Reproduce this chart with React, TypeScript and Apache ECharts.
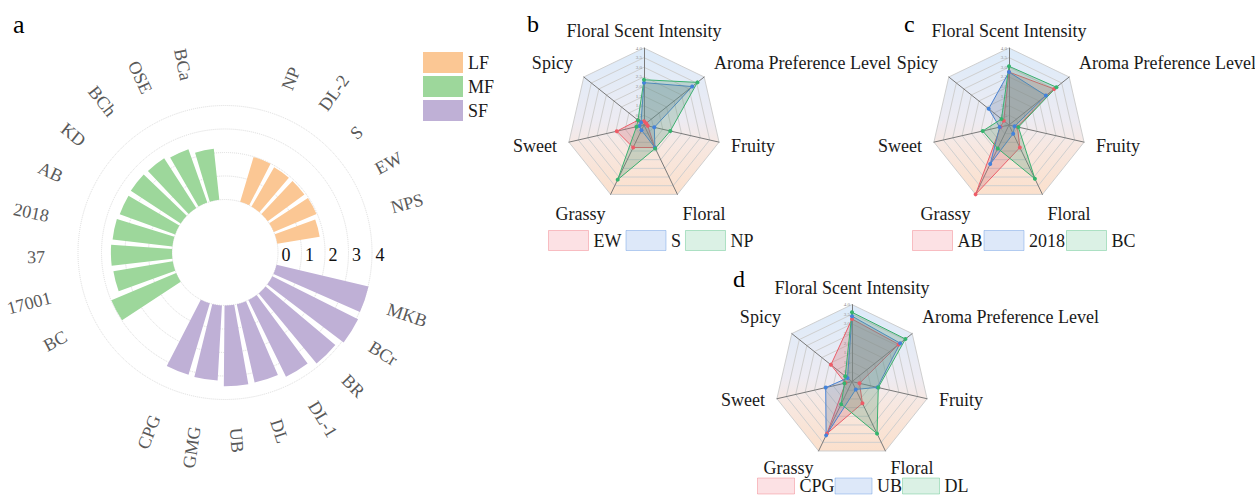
import React, { useEffect, useRef } from 'react';
import * as echarts from 'echarts';

const FONT = "'Times New Roman', 'Liberation Serif', serif";

// ---------- chart a : polar bars ----------
const LF_NAMES = ['NP', 'DL-2', 'S', 'EW', 'NPS'];
const LF_VALUES = [1.99, 1.93, 1.93, 1.97, 1.83];
const SF_NAMES = ['MKB', 'BCr', 'BR', 'DL-1', 'DL', 'UB', 'GMG', 'CPG'];
const SF_VALUES = [4.02, 4.08, 3.87, 3.63, 3.42, 3.44, 3.2, 3.17];
const MF_NAMES = ['BC', '17001', '37', '2018', 'AB', 'KD', 'BCh', 'OSE', 'BCa'];
const MF_VALUES = [2.99, 2.56, 2.6, 2.56, 2.51, 2.54, 2.52, 2.41, 2.18];
const GROUP_NAMES = ['LF', 'MF', 'SF'];
const RADIUS_MAX = 4;

// ---------- radar charts (values clockwise from the top axis) ----------
const RADAR_AXES = ['Floral Scent Intensity', 'Aroma Preference Level', 'Fruity', 'Floral', 'Grassy', 'Sweet', 'Spicy'];
const RADAR_MAX = 4;

const B_NAMES = ['EW', 'S', 'NP'];
const B_EW = [0.2, 0.15, 0.2, 1.3, 1.3, 1.45, 0.4];
const B_S = [2.2, 3.2, 0.55, 1.3, 0.3, 0.25, 0.2];
const B_NP = [2.35, 3.55, 1.4, 1.35, 3.15, 0.4, 0.4];

const C_NAMES = ['AB', '2018', 'BC'];
const C_AB = [2.75, 3.0, 0.45, 1.3, 4.0, 0.45, 0.35];
const C_2018 = [2.75, 2.45, 0.3, 0.5, 2.25, 0.5, 1.35];
const C_BC = [3.05, 3.15, 0.5, 3.1, 1.35, 1.4, 0.5];

const D_NAMES = ['CPG', 'UB', 'DL'];
const D_CPG = [3.25, 3.1, 0.4, 1.25, 3.0, 0.35, 1.4];
const D_UB = [3.4, 3.2, 1.35, 0.45, 3.1, 1.4, 0.3];
const D_DL = [3.6, 3.55, 1.4, 3.0, 1.3, 0.4, 0.45];

// ---------- styles / layout ----------
const COLOR_LF = '#FBC794';
const COLOR_MF = '#9DD79B';
const COLOR_SF = '#BFB0D6';
const SERIES_RGB = [[238, 91, 103], [67, 130, 219], [53, 180, 110]];
const AREA_RGB = [[212, 112, 120], [110, 132, 170], [96, 156, 122]];

const POLAR_CENTER = [225, 252.5];
const LABEL_CENTER = [221, 252.5];
const BAR_HALF = 0.79; // half bar width, in angle slots
const LABEL_R = 5.23; // radius value where category labels start
const GROUP_EXTRA_GAP = [3, 4, 3];
const START_ANGLE = 68.1;

const rgba = (c: number[], a: number) => `rgba(${c[0]},${c[1]},${c[2]},${a})`;

function buildPolar() {
  const groups = [
    { name: 'LF', names: LF_NAMES, values: LF_VALUES, color: COLOR_LF },
    { name: 'SF', names: SF_NAMES, values: SF_VALUES, color: COLOR_SF },
    { name: 'MF', names: MF_NAMES, values: MF_VALUES, color: COLOR_MF },
  ];
  let slot = 0;
  const slots = groups.map((g, gi) => {
    const s = g.values.map((_, i) => slot + 2 * i);
    slot += 2 * g.values.length + GROUP_EXTRA_GAP[gi];
    return s;
  });
  const total = slot;
  const labelNames: string[] = [];
  const labelData: number[][] = [];
  groups.forEach((g, gi) => {
    g.names.forEach((n, i) => {
      labelNames.push(n);
      labelData.push([LABEL_R, slots[gi][i]]);
    });
  });

  const barSeries = groups.map((g, gi) => ({
    type: 'custom',
    name: g.name,
    coordinateSystem: 'polar',
    polarIndex: 0,
    itemStyle: { color: g.color },
    data: g.values.map((v, i) => [v, slots[gi][i]]),
    renderItem: (params: any, api: any) => {
      const cs = params.coordSys;
      const v = api.value(0);
      const s = api.value(1);
      const p0 = api.coord([v, s - BAR_HALF]);
      const p1 = api.coord([v, s + BAR_HALF]);
      const a0 = Math.atan2(p0[1] - cs.cy, p0[0] - cs.cx);
      let a1 = Math.atan2(p1[1] - cs.cy, p1[0] - cs.cx);
      if (a1 < a0) a1 += Math.PI * 2;
      const r = Math.hypot(p0[0] - cs.cx, p0[1] - cs.cy);
      const q = api.coord([0, s]);
      const r0 = Math.hypot(q[0] - cs.cx, q[1] - cs.cy);
      return {
        type: 'sector',
        shape: { cx: cs.cx, cy: cs.cy, r0, r, startAngle: a0, endAngle: a1, clockwise: true },
        style: { fill: api.visual('color') },
      };
    },
  }));

  const labelSeries = {
    type: 'custom',
    name: 'category-labels',
    coordinateSystem: 'polar',
    polarIndex: 2,
    silent: true,
    data: labelData,
    renderItem: (params: any, api: any) => {
      const cs = params.coordSys;
      const p = api.coord([api.value(0), api.value(1)]);
      const dx = p[0] - cs.cx;
      const dy = p[1] - cs.cy;
      const a = Math.atan2(dy, dx);
      const right = dx >= 0;
      return {
        type: 'text',
        x: p[0],
        y: p[1],
        rotation: right ? -a : -a + Math.PI,
        style: {
          text: labelNames[params.dataIndex],
          fill: '#595959',
          fontSize: 18,
          fontFamily: FONT,
          align: right ? 'left' : 'right',
          verticalAlign: 'middle',
        },
      };
    },
  };

  return { barSeries, labelSeries, total };
}

// nudges of the radar axis names [top, right, bottom, left], clockwise from the top axis
const NAME_PADDING_UPPER = [
  [0, 0, 3, 0],
  [0, 0, 22, 6],
  [5, 0, 0, 7],
  [31, 0, 0, 3],
  [31, 3, 0, 0],
  [5, 7, 0, 0],
  [0, 7, 22, 0],
];
const NAME_PADDING_LOWER = [
  [0, 0, 3, 0],
  [0, 0, 26, 6],
  [1, 0, 0, 7],
  [25, 0, 0, 3],
  [25, 3, 0, 0],
  [1, 7, 0, 0],
  [0, 7, 26, 0],
];

// ECharts lays radar indicators out counter-clockwise: reorder clockwise lists
const CCW = [0, 6, 5, 4, 3, 2, 1];
const toCCW = (arr: any[]) => CCW.map((i) => arr[i]);

function buildRadar(center: number[], padding: number[][]) {
  const indicators = RADAR_AXES.map((name, i) => {
    const ind: any = { name, min: 0, max: RADAR_MAX };
    if (i === 0) {
      ind.axisLabel = {
        show: true,
        fontSize: 5,
        color: '#8c8c8c',
        margin: 2,
        fontFamily: FONT,
        formatter: (v: number) => (v === 0 ? '0' : v.toFixed(1)),
      };
    }
    return ind;
  });
  const rich: any = {};
  RADAR_AXES.forEach((_, i) => {
    rich['n' + i] = { fontSize: 18, fontFamily: FONT, color: '#1a1a1a', padding: padding[i] };
  });
  return {
    center,
    radius: 77,
    startAngle: 90,
    splitNumber: 8,
    shape: 'polygon',
    indicator: toCCW(indicators),
    axisNameGap: 5,
    axisName: {
      color: '#1a1a1a',
      fontSize: 18,
      fontFamily: FONT,
      formatter: (name: string) => `{n${RADAR_AXES.indexOf(name)}|${name}}`,
      rich,
    },
    axisLine: { lineStyle: { color: '#7a7a7a', width: 1 } },
    splitLine: { lineStyle: { color: '#cfcfcf', width: 1 } },
    splitArea: {
      show: true,
      areaStyle: {
        color: [
          {
            type: 'linear', x: 0, y: 0, x2: 0, y2: 1,
            colorStops: [
              { offset: 0, color: '#DCEBFA' },
              { offset: 0.5, color: '#EDEBF2' },
              { offset: 0.66, color: '#F7E8E2' },
              { offset: 1, color: '#FBE0CC' },
            ],
          },
        ],
      },
    },
  };
}

function radarSeries(radarIndex: number, names: string[], values: number[][]) {
  return {
    type: 'radar',
    radarIndex,
    symbol: 'circle',
    symbolSize: 4,
    data: names.map((n, k) => ({
      name: n,
      value: toCCW(values[k]),
      itemStyle: { color: rgba(SERIES_RGB[k], 1) },
      lineStyle: { color: rgba(SERIES_RGB[k], 1), width: 1 },
      areaStyle: { color: rgba(AREA_RGB[k], 1), opacity: 0.3 },
    })),
  };
}

function radarLegend(names: string[], left: number, top: number, itemWidth: number, itemHeight: number, itemGap: number) {
  return {
    left,
    top,
    padding: 0,
    itemWidth,
    itemHeight,
    itemGap,
    icon: 'rect',
    textStyle: { fontSize: 18, fontFamily: FONT, color: '#1a1a1a' },
    data: names.map((n, k) => ({
      name: n,
      itemStyle: { color: rgba(SERIES_RGB[k], 0.18), borderColor: rgba(SERIES_RGB[k], 0.35), borderWidth: 1 },
    })),
  };
}

export default function App() {
  const ref = useRef<HTMLDivElement>(null);
  useEffect(() => {
    if (!ref.current) return;
    const chart = echarts.init(ref.current, undefined, { renderer: 'svg' });
    const { barSeries, labelSeries, total } = buildPolar();
    const option: any = {
      animation: false,
      backgroundColor: '#ffffff',
      textStyle: { fontFamily: FONT },
      polar: [
        { center: POLAR_CENTER, radius: [53, 147] },
        { center: POLAR_CENTER, radius: [61, 155] },
        { center: LABEL_CENTER, radius: [53, 147] },
      ],
      angleAxis: [
        { polarIndex: 0, type: 'value', min: 0, max: total, startAngle: START_ANGLE, clockwise: true, show: false },
        { polarIndex: 1, type: 'value', min: 0, max: 360, startAngle: 0, show: false },
        { polarIndex: 2, type: 'value', min: 0, max: total, startAngle: START_ANGLE, clockwise: true, show: false },
      ],
      radiusAxis: [
        {
          polarIndex: 0, type: 'value', min: 0, max: RADIUS_MAX, interval: 1,
          axisLine: { show: false }, axisTick: { show: false }, axisLabel: { show: false },
          splitLine: { show: true, lineStyle: { color: '#dcdcdc', type: 'dotted', width: 1 } },
        },
        {
          polarIndex: 1, type: 'value', min: 0, max: RADIUS_MAX, interval: 1,
          axisLine: { show: false }, axisTick: { show: false }, splitLine: { show: false },
          axisLabel: { show: true, margin: -2.5, verticalAlign: 'middle', align: 'center', fontSize: 18, color: '#111', fontFamily: FONT },
        },
        {
          polarIndex: 2, type: 'value', min: 0, max: RADIUS_MAX, show: false,
        },
      ],
      radar: [
        buildRadar([644, 125], NAME_PADDING_UPPER),
        buildRadar([1009, 125], NAME_PADDING_UPPER),
        buildRadar([852, 381.6], NAME_PADDING_LOWER),
      ],
      legend: [
        {
          orient: 'vertical', left: 423, top: 52, padding: 0, itemWidth: 40, itemHeight: 21, itemGap: 3, icon: 'rect',
          textStyle: { fontSize: 18, fontFamily: FONT, color: '#1a1a1a' },
          data: GROUP_NAMES,
        },
        radarLegend(B_NAMES, 548, 230, 40, 20, 4),
        radarLegend(C_NAMES, 912, 230, 40, 20, 1),
        radarLegend(D_NAMES, 757, 477, 37, 16, 0),
      ],
      graphic: [
        { type: 'text', x: 13, y: 24, style: { text: 'a', fontSize: 26, fontFamily: FONT, fill: '#000', verticalAlign: 'middle' } },
        { type: 'text', x: 527, y: 24, style: { text: 'b', fontSize: 24, fontFamily: FONT, fill: '#000', verticalAlign: 'middle' } },
        { type: 'text', x: 904, y: 24, style: { text: 'c', fontSize: 24, fontFamily: FONT, fill: '#000', verticalAlign: 'middle' } },
        { type: 'text', x: 733, y: 279, style: { text: 'd', fontSize: 24, fontFamily: FONT, fill: '#000', verticalAlign: 'middle' } },
      ],
      series: [
        ...barSeries,
        labelSeries,
        radarSeries(0, B_NAMES, [B_EW, B_S, B_NP]),
        radarSeries(1, C_NAMES, [C_AB, C_2018, C_BC]),
        radarSeries(2, D_NAMES, [D_CPG, D_UB, D_DL]),
      ],
    };
    chart.setOption(option);
    return () => chart.dispose();
  }, []);
  return <div ref={ref} style={{ position: 'fixed', left: 0, top: 0, width: 1255, height: 495 }} />;
}
